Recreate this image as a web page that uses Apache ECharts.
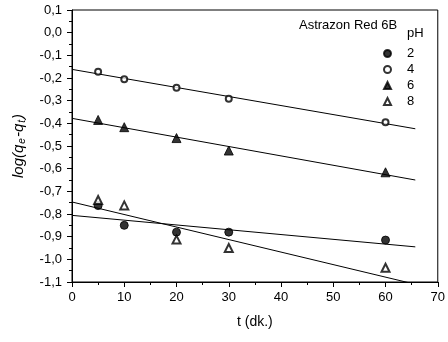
<!DOCTYPE html>
<html><head><meta charset="utf-8">
<script src="https://cdn.jsdelivr.net/npm/echarts@6/dist/echarts.min.js"></script>
<style>html,body{margin:0;padding:0;background:#fff}#c{width:448px;height:342px}</style>
</head><body><div id="c"></div>
<script>
var times = [5, 10, 20, 30, 60];
var pH2 = [-0.763, -0.850, -0.880, -0.880, -0.915];
var pH4 = [-0.172, -0.206, -0.243, -0.291, -0.395];
var pH6 = [-0.385, -0.417, -0.465, -0.520, -0.616];
var pH8 = [-0.738, -0.762, -0.913, -0.950, -1.037];
var fitX = [0, 65.7];
var fit2 = [-0.806, -0.945];
var fit4 = [-0.162, -0.424];
var fit6 = [-0.378, -0.650];
var fit8 = [-0.747, -1.110];
var xTicks = [0, 10, 20, 30, 40, 50, 60, 70];
var yTicks = [-1.1, -1.0, -0.9, -0.8, -0.7, -0.6, -0.5, -0.4, -0.3, -0.2, -0.1, 0.0, 0.1];

function pts(xs, ys){ return xs.map(function(x,i){ return [x, ys[i]]; }); }
var FONT = 'Liberation Sans';
var chart = echarts.init(document.getElementById('c'), null, {renderer:'canvas'});
function scatter(name, data, symbol, size){
  return {name:name, type:'scatter', data:pts(times,data), symbol:symbol, symbolSize:size,
    itemStyle:{color:'#000', borderColor:'#000', borderWidth:1},
    emphasis:{disabled:true}, z:5};
}
function fit(data){
  return {type:'line', data:pts(fitX,data), symbol:'none', lineStyle:{color:'#000', width:1}, clip:true, silent:true, z:3};
}
chart.setOption({
  animation:false,
  backgroundColor:'#fff',
  textStyle:{fontFamily:FONT},
  grid:{left:72, right:10, top:10, bottom:60, show:true, borderColor:'#000', borderWidth:1, backgroundColor:'transparent'},
  title:[
    {text:'Astrazon Red 6B', left:299, top:19, padding:0, textStyle:{fontFamily:FONT, fontSize:13, fontWeight:'normal', color:'#000'}},
    {text:'pH', left:407, top:27, padding:0, textStyle:{fontFamily:FONT, fontSize:13, fontWeight:'normal', color:'#000'}}
  ],
  legend:{orient:'vertical', left:383, top:46, itemWidth:7, itemHeight:7, itemGap:1, padding:0,
    textStyle:{fontFamily:FONT, fontSize:13, color:'#000', padding:[0,0,0,11], lineHeight:15},
    data:['2','4','6','8']},
  xAxis:{type:'value', min:xTicks[0], max:xTicks[xTicks.length-1], interval:10,
    name:'t (dk.)', nameLocation:'middle', nameGap:33,
    nameTextStyle:{fontFamily:FONT, fontSize:14, color:'#000'},
    axisLine:{onZero:false, lineStyle:{color:'#000', width:1}},
    axisTick:{length:5, lineStyle:{color:'#000'}},
    minorTick:{show:true, splitNumber:2, length:3, lineStyle:{color:'#000'}},
    splitLine:{show:false},
    axisLabel:{fontFamily:FONT, fontSize:13, color:'#000', margin:9}},
  yAxis:{type:'value', min:yTicks[0], max:yTicks[yTicks.length-1], interval:0.1,
    name:'{i|log(q}{s|e}{i|-q}{s|t}{i|)}', nameLocation:'middle', nameGap:45, nameRotate:90,
    nameTextStyle:{fontFamily:FONT, fontSize:15, color:'#000',
      rich:{i:{fontFamily:FONT, fontSize:15, fontStyle:'italic', color:'#000'},
            s:{fontFamily:FONT, fontSize:10, fontStyle:'italic', color:'#000', verticalAlign:'bottom', padding:[7,1,0,1]}}},
    axisLine:{onZero:false, lineStyle:{color:'#000', width:1}},
    axisTick:{length:5, lineStyle:{color:'#000'}},
    minorTick:{show:true, splitNumber:2, length:3, lineStyle:{color:'#000'}},
    splitLine:{show:false},
    axisLabel:{fontFamily:FONT, fontSize:13, color:'#000', margin:10,
      formatter:function(v){ if(Math.abs(v)<1e-9) return '0,0'; return v.toFixed(1).replace('.',','); }}},
  series:[
    scatter('2', pH2, 'circle', 8),
    scatter('4', pH4, 'emptyCircle', 6),
    scatter('6', pH6, 'triangle', 9),
    scatter('8', pH8, 'emptyTriangle', 8),
    fit(fit2), fit(fit4), fit(fit6), fit(fit8)
  ]
});
</script></body></html>
